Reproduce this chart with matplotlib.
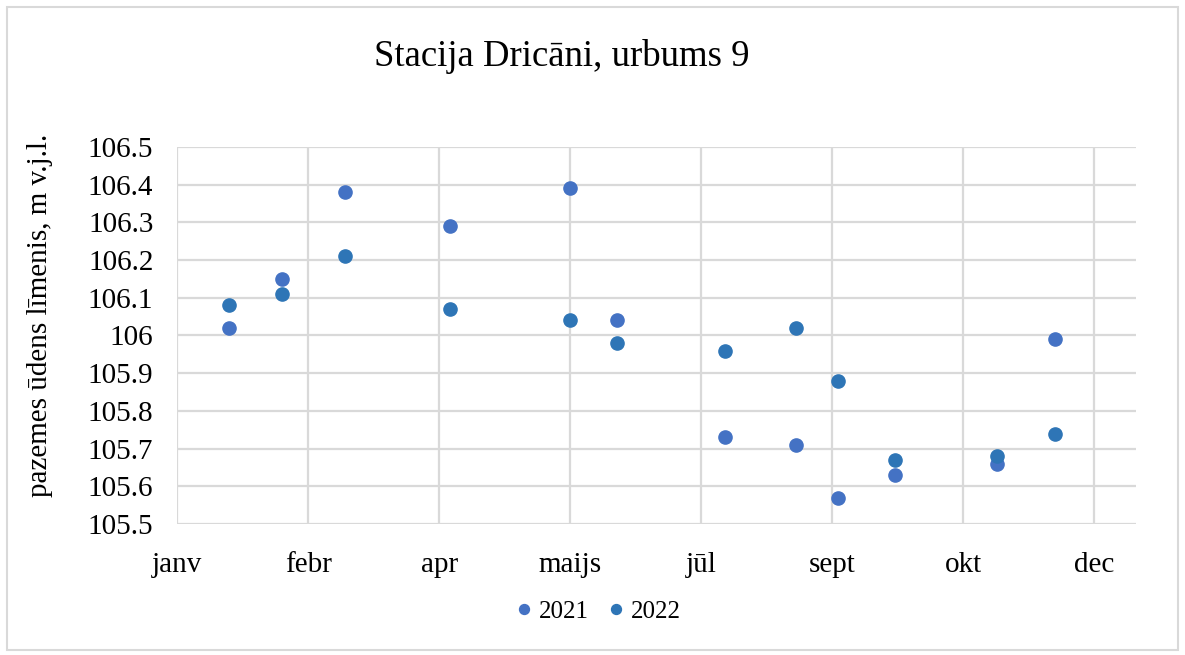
import matplotlib
matplotlib.use("Agg")
import matplotlib.pyplot as plt
from matplotlib.patches import Rectangle

plt.rcParams['font.family'] = ['Liberation Serif', 'DejaVu Serif']

# Day of year of each measurement
days = [20, 40, 64, 104, 150, 168, 209, 236, 252, 274, 313, 335]
level_2021 = [106.02, 106.15, 106.38, 106.29, 106.39, 106.04, 105.73, 105.71, 105.57, 105.63, 105.66, 105.99]
level_2022 = [106.08, 106.11, 106.21, 106.07, 106.04, 105.98, 105.96, 106.02, 105.88, 105.67, 105.68, 105.74]

x_ticks = [0, 50, 100, 150, 200, 250, 300, 350]
x_labels = ["janv", "febr", "apr", "maijs", "jūl", "sept", "okt", "dec"]
y_ticks = [105.5, 105.6, 105.7, 105.8, 105.9, 106.0, 106.1, 106.2, 106.3, 106.4, 106.5]
y_labels = ["105.5", "105.6", "105.7", "105.8", "105.9", "106", "106.1", "106.2", "106.3", "106.4", "106.5"]

title = "Stacija Dricāni, urbums 9"
ylabel = "pazemes ūdens līmenis, m v.j.l."

fig = plt.figure(figsize=(11.85, 6.55), dpi=100)
ax = fig.add_axes([0.1494, 0.2, 0.8096, 0.5756])

grid_c = "#D9D9D9"
ax.plot(days, level_2021, linestyle="none", marker="o", markersize=9.5,
        color="#4472C4", label="2021", zorder=3)
ax.plot(days, level_2022, linestyle="none", marker="o", markersize=9.5,
        color="#2E75B6", label="2022", zorder=3)

ax.set_xlim(0, 366)
ax.set_ylim(105.5, 106.5)
ax.set_xticks(x_ticks)
ax.set_xticklabels(x_labels, fontsize=21)
ax.set_yticks(y_ticks)
ax.set_yticklabels(y_labels, fontsize=21)
ax.tick_params(axis='x', length=0, pad=20)
ax.tick_params(axis='y', length=0, pad=17)
ax.grid(True, color=grid_c, linewidth=1.6)
ax.set_axisbelow(True)
for s in ax.spines.values():
    s.set_visible(False)

fig.text(0.474, 0.913, title, fontsize=26.5, ha="center", va="center")
fig.text(0.034, 0.519, ylabel, fontsize=21, rotation=90, ha="center", va="center")

leg = fig.legend(loc="center", bbox_to_anchor=(0.503, 0.066), ncol=2, frameon=False,
                 fontsize=18, markerscale=0.75, handletextpad=0.1, columnspacing=0.6,
                 handlelength=1.0)

fig.patches.append(Rectangle((0.006, 0.008), 0.988, 0.982, transform=fig.transFigure,
                             fill=False, edgecolor=grid_c, linewidth=1.5))

fig.savefig("out.png", dpi=100)
